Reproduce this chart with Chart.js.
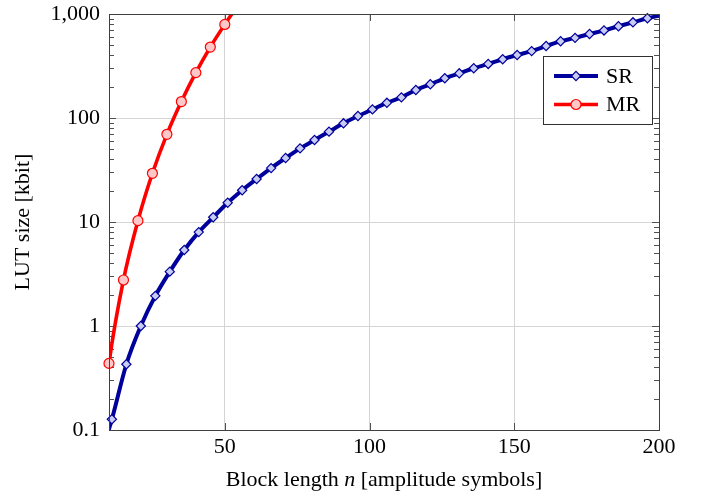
<!DOCTYPE html>
<html>
<head>
<meta charset="utf-8">
<script src="https://cdn.jsdelivr.net/npm/chart.js@4.4.1/dist/chart.umd.min.js"></script>
<style>
html,body{margin:0;padding:0;background:#fff;}
#wrap{width:702px;height:495px;position:relative;}
</style>
</head>
<body>
<div id="wrap"><canvas id="c" width="702" height="495"></canvas></div>
<script>
// ---- data ----
const srN   = [6, 11, 16, 21, 26, 31, 36, 41, 46, 51, 56, 61, 66, 71, 76, 81, 86, 91, 96, 101, 106, 111, 116, 121, 126, 131, 136, 141, 146, 151, 156, 161, 166, 171, 176, 181, 186, 191, 196, 201];
const srLUT = [0.045, 0.127, 0.429, 1.0, 1.95, 3.33, 5.38, 8.0, 11.1, 15.3, 20.2, 25.9, 33.0, 41.2, 51.1, 61.4, 73.9, 88.9, 104.5, 121, 140, 158, 186, 211, 241, 269, 301, 331, 367, 403, 440, 492, 547, 590, 642, 695, 762, 832, 910, 977];
const mrN   = [5, 10, 15, 20, 25, 30, 35, 40, 45, 50, 55];
const mrLUT = [0.025, 0.437, 2.77, 10.3, 29.4, 69.7, 144, 273, 481, 794, 1270];
const xTicks = [50, 100, 150, 200];
const yTicks = [0.1, 1, 10, 100, 1000];
const yTickLabels = ['0.1', '1', '10', '100', '1,000'];
const xRange = [10, 200];
const yRange = [0.1, 1000];
const seriesNames = ['SR', 'MR'];
const xTitleParts = ['Block length ', 'n', ' [amplitude symbols]'];
const yTitle = 'LUT size [kbit]';

const FONT = '"Liberation Serif", "Times New Roman", serif';
const FS = 22;

function pts(xs, ys){ return xs.map((x,i)=>({x:x, y:ys[i]})); }
function inRange(p){ return p.x>=xRange[0] && p.x<=xRange[1] && p.y>=yRange[0] && p.y<=yRange[1]; }

const SR = {line:'#00009c', fill:'rgb(200,204,242)'};
const MR = {line:'#ff0000', fill:'rgb(255,200,200)'};

const datasets = [
  {label:'MR markers', data:pts(mrN, mrLUT).filter(inRange), showLine:false, pointStyle:'circle',
   pointRadius:5, pointBackgroundColor:MR.fill, pointBorderColor:MR.line, pointBorderWidth:1.2, clip:false},
  {label:'MR', data:pts(mrN, mrLUT), borderColor:MR.line, borderWidth:3.6, pointRadius:0,
   cubicInterpolationMode:'monotone', fill:false},
  {label:'SR markers', data:pts(srN, srLUT).filter(inRange), showLine:false, pointStyle:'rectRot',
   pointRadius:4.6, pointBackgroundColor:SR.fill, pointBorderColor:SR.line, pointBorderWidth:1.2, clip:false},
  {label:'SR', data:pts(srN, srLUT), borderColor:SR.line, borderWidth:4, pointRadius:0,
   cubicInterpolationMode:'monotone', fill:false}
];

const decor = {
  id:'decor',
  beforeDatasetsDraw(chart){
    const {ctx, chartArea:a, scales:{x, y}} = chart;
    ctx.save();
    ctx.strokeStyle = '#505050';
    ctx.lineWidth = 1;
    const major = 7, minor = 5;
    ctx.beginPath();
    for (let d = 0; d < yTicks.length - 1; d++) {
      const base = yTicks[d];
      for (let m = 2; m <= 9; m++) {
        const py = Math.round(y.getPixelForValue(base*m)) + 0.5;
        ctx.moveTo(a.left, py); ctx.lineTo(a.left + minor, py);
        ctx.moveTo(a.right, py); ctx.lineTo(a.right - minor, py);
      }
    }
    for (let i = 1; i < yTicks.length - 1; i++) {
      const py = Math.round(y.getPixelForValue(yTicks[i])) + 0.5;
      ctx.moveTo(a.left, py); ctx.lineTo(a.left + major, py);
      ctx.moveTo(a.right, py); ctx.lineTo(a.right - major, py);
    }
    for (let i = 0; i < xTicks.length - 1; i++) {
      const px = Math.round(x.getPixelForValue(xTicks[i])) + 0.5;
      ctx.moveTo(px, a.bottom); ctx.lineTo(px, a.bottom - major);
      ctx.moveTo(px, a.top); ctx.lineTo(px, a.top + major);
    }
    ctx.stroke();
    ctx.restore();
  },
  afterDraw(chart){
    const {ctx, chartArea:a} = chart;
    ctx.save();
    // frame
    ctx.strokeStyle = '#404040';
    ctx.lineWidth = 1;
    ctx.strokeRect(Math.round(a.left)+0.5, Math.round(a.top)+0.5, Math.round(a.right-a.left), Math.round(a.bottom-a.top));
    // axis titles
    ctx.fillStyle = '#000';
    ctx.textBaseline = 'middle';
    const cx = (a.left + a.right)/2;
    const fN = FS + 'px ' + FONT, fI = 'italic ' + FS + 'px ' + FONT;
    const fonts = [fN, fI, fN];
    let w = 0; const ws = [];
    xTitleParts.forEach((t,i)=>{ ctx.font = fonts[i]; const m = ctx.measureText(t).width; ws.push(m); w += m; });
    let sx = cx - w/2;
    ctx.textAlign = 'left';
    xTitleParts.forEach((t,i)=>{ ctx.font = fonts[i]; ctx.fillText(t, sx, 480); sx += ws[i]; });
    ctx.save();
    ctx.translate(23, (a.top + a.bottom)/2);
    ctx.rotate(-Math.PI/2);
    ctx.textAlign = 'center';
    ctx.font = fN;
    ctx.fillText(yTitle, 0, 0);
    ctx.restore();
    // legend
    const L = {x:543.5, y:56.5, w:109, h:68};
    ctx.fillStyle = '#fff';
    ctx.fillRect(L.x, L.y, L.w, L.h);
    ctx.strokeStyle = '#303030';
    ctx.lineWidth = 1;
    ctx.strokeRect(L.x, L.y, L.w, L.h);
    const rows = [
      {name:seriesNames[0], c:SR, style:'rectRot', r:4.6, lw:4, y:76},
      {name:seriesNames[1], c:MR, style:'circle', r:5, lw:3.6, y:104.5}
    ];
    rows.forEach(r=>{
      ctx.strokeStyle = r.c.line; ctx.lineWidth = r.lw;
      ctx.beginPath(); ctx.moveTo(554, r.y); ctx.lineTo(598, r.y); ctx.stroke();
      ctx.fillStyle = r.c.fill; ctx.strokeStyle = r.c.line; ctx.lineWidth = 1.2;
      Chart.helpers.drawPoint(ctx, {pointStyle:r.style, radius:r.r, borderWidth:1.2}, 576, r.y);
      ctx.fillStyle = '#000'; ctx.font = fN; ctx.textAlign = 'left'; ctx.textBaseline = 'middle';
      ctx.fillText(r.name, 606, r.y + 1);
    });
    ctx.restore();
  }
};

new Chart(document.getElementById('c'), {
  type:'line',
  data:{datasets},
  options:{
    responsive:false, animation:false, devicePixelRatio:1,
    layout:{padding:{left:0, right:43, top:14, bottom:0}},
    plugins:{legend:{display:false}, tooltip:{enabled:false}},
    elements:{line:{borderJoinStyle:'round', borderCapStyle:'round'}},
    scales:{
      x:{type:'linear', min:xRange[0], max:xRange[1],
         afterBuildTicks(s){ s.ticks = xTicks.map(v=>({value:v})); },
         afterFit(s){ s.height = 65; s.paddingLeft = 0; s.paddingRight = 0; },
         grid:{color:'#d4d4d4', lineWidth:1, drawTicks:false},
         border:{display:false},
         ticks:{color:'#000', padding:4, font:{family:FONT, size:FS}, maxRotation:0, callback:(v)=>String(v)}},
      y:{type:'logarithmic', min:yRange[0], max:yRange[1],
         afterBuildTicks(s){ s.ticks = yTicks.map(v=>({value:v})); },
         afterFit(s){ s.width = 109; s.paddingTop = 0; s.paddingBottom = 0; },
         grid:{color:'#d4d4d4', lineWidth:1, drawTicks:false},
         border:{display:false},
         ticks:{color:'#000', padding:9, font:{family:FONT, size:FS},
                callback:(v)=>{ const i = yTicks.findIndex(t=>Math.abs(t-v)/t<1e-6); return i>=0 ? yTickLabels[i] : ''; }}}
    }
  },
  plugins:[decor]
});
</script>
</body>
</html>
